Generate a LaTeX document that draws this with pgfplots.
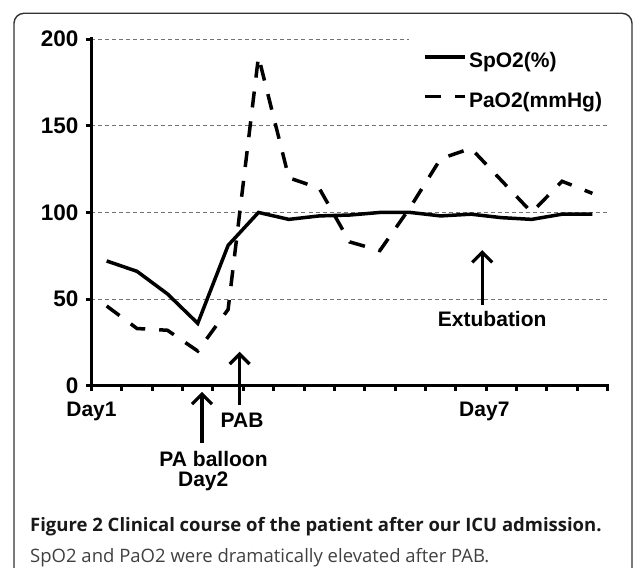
\documentclass[border=0pt]{standalone}
\usepackage{fontspec}
\setmainfont{Liberation Sans}
\newfontfamily\capfont{Open Sans}
\usepackage{pgfplots}
\pgfplotsset{compat=1.18}
\usetikzlibrary{arrows.meta}
\pgfplotstableread{
i spo pao
0.5 72 46
1.5 66 33
2.5 53 32
3.5 36 20
4.5 81 44
5.5 100 190
6.5 96 120
7.5 98 114
8.5 98.5 83
9.5 100 78
10.5 100 103
11.5 98 131
12.5 99 137
13.5 97 118.5
14.5 96 100
15.5 99 118
16.5 99 111
}\datatable
\newcommand{\bigf}{\bfseries\fontsize{21}{21}\selectfont}
\newcommand{\tickf}{\bfseries\fontsize{22.5}{22.5}\selectfont}
\begin{document}
\begin{tikzpicture}[x=1pt,y=1pt]
\path[use as bounding box] (0,0) rectangle (633,568);
\begin{scope}
\clip (0,0) rectangle (633,568);
\draw[line width=1.4pt, black!80, rounded corners=10pt] (14,-20) -- (14,554.7) -- (632,554.7) -- (632,-20);
\end{scope}
\begin{axis}[
  scale only axis, width=516.1pt, height=346.5pt,
  at={(91.5pt,182.3pt)}, anchor=south west,
  xmin=0, xmax=17, ymin=0, ymax=200,
  axis lines*=left,
  axis line style={line width=3.5pt, line cap=rect},
  xtick={0,1,...,17}, xticklabels={},
  ytick={0,50,100,150,200},
  tick align=outside, major tick length=5pt,
  every tick/.style={black, line width=3pt},
  /pgf/number format/assume math mode=true,
  yticklabel style={font=\tickf, inner sep=0pt, xshift=-8pt},
  ymajorgrids, major grid style={black!55, line width=1pt, dash pattern=on 4pt off 3pt},
  clip=false,
  legend style={draw=none, fill=none, at={(0.642,0.962)}, anchor=north west,
    font=\bigf, row sep=23pt, inner sep=0pt, nodes={inner xsep=2.5pt, inner ysep=0pt}},
  legend cell align=left,
  legend image code/.code={\draw[#1] (0pt,0.4em) -- (40pt,0.4em);},
]
\fill[white] (axis cs:10.45,196) rectangle (axis cs:17.3,204);
\addplot[black, line width=3.5pt] table[x=i, y=spo] {\datatable};
\addlegendentry{SpO2(\%)}
\addplot[black, line width=3.5pt, dash pattern=on 16pt off 14pt] table[x=i, y=pao] {\datatable};
\addlegendentry{PaO2(mmHg)}
\draw[line width=3.3pt, -{Straight Barb[length=10pt, width=20pt]}] (axis cs:3.64,-33.2) -- (axis cs:3.64,-3.5);
\draw[line width=3.3pt, -{Straight Barb[length=10pt, width=20pt]}] (axis cs:4.88,-11.1) -- (axis cs:4.88,19.6);
\draw[line width=3.3pt, -{Straight Barb[length=10pt, width=20pt]}] (axis cs:12.87,46.6) -- (axis cs:12.87,78.3);
\node[font=\bigf] at (axis cs:0,-15) {Day1};
\node[font=\bigf] at (axis cs:12.94,-15) {Day7};
\node[font=\bigf] at (axis cs:4.96,-19.8) {PAB};
\node[font=\bigf] at (axis cs:4.02,-42.3) {PA balloon};
\node[font=\bigf] at (axis cs:3.68,-55) {Day2};
\node[font=\bigf] at (axis cs:13.2,38.3) {Extubation};
\end{axis}
\node[anchor=base west, inner sep=0pt, font=\capfont\bfseries\fontsize{18.5}{20}\selectfont, text=black!90] at (30,36.3) {Figure 2 Clinical course of the patient after our ICU admission.};
\node[anchor=base west, inner sep=0pt, font=\capfont\fontsize{18.5}{20}\selectfont, text=black!75] at (30,5.7) {SpO2 and PaO2 were dramatically elevated after PAB.};
\end{tikzpicture}
\end{document}
